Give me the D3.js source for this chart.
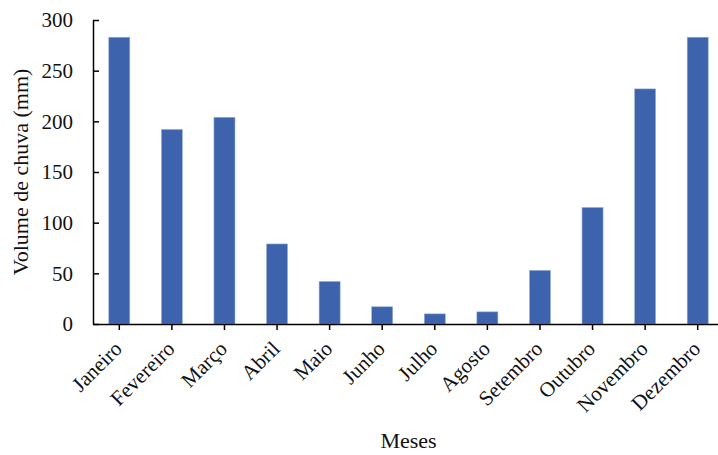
<!DOCTYPE html>
<html>
<head>
<meta charset="utf-8">
<script src="https://cdn.jsdelivr.net/npm/d3@7"></script>
<style>
  html, body { margin: 0; padding: 0; background: #fff; }
  svg { display: block; font-family: "Liberation Serif", "Times New Roman", serif; }
</style>
</head>
<body>
<svg id="chart" width="718" height="455"></svg>
<script>
// Monthly rainfall (mm)
const months = ["Janeiro", "Fevereiro", "Março", "Abril", "Maio", "Junho",
                "Julho", "Agosto", "Setembro", "Outubro", "Novembro", "Dezembro"];
const rainfall = [283, 192, 204, 79, 42, 17, 10, 12, 53, 115, 232, 283];
const yTicks = [0, 50, 100, 150, 200, 250, 300];

const svg = d3.select("#chart");
const plotLeft = 93, plotRight = 724, plotTop = 20, plotBottom = 324;
const serif = "Liberation Serif, Times New Roman, serif";

const x = d3.scaleBand().domain(months).range([plotLeft, plotRight]).paddingInner(0.6).paddingOuter(0.3);
const y = d3.scaleLinear().domain([0, 300]).range([plotBottom, plotTop]);

// Bars
svg.append("g").selectAll("rect")
  .data(months.map((m, i) => ({ m, v: rainfall[i] })))
  .join("rect")
  .attr("x", d => x(d.m))
  .attr("y", d => y(d.v))
  .attr("width", x.bandwidth())
  .attr("height", d => y(0) - y(d.v))
  .attr("fill", "#3c63ab")
  .attr("stroke", "#9db2db")
  .attr("stroke-width", 0.6);

// Y axis (ticks point into the plot)
const yAxis = svg.append("g")
  .attr("transform", `translate(${plotLeft},0)`)
  .call(d3.axisLeft(y).tickValues(yTicks).tickSize(-6).tickPadding(20).tickSizeOuter(0));
yAxis.select(".domain").attr("stroke", "#000").attr("stroke-width", 1.5);
yAxis.selectAll(".tick line").attr("stroke", "#000").attr("stroke-width", 1.5);
yAxis.selectAll(".tick text").attr("font-size", 21).attr("fill", "#111")
  .attr("font-family", serif);

// X axis with rotated month labels
const xAxis = svg.append("g")
  .attr("transform", `translate(0,${plotBottom})`)
  .call(d3.axisBottom(x).tickSize(6).tickSizeOuter(0));
xAxis.select(".domain").attr("stroke", "#000").attr("stroke-width", 1.5);
xAxis.selectAll(".tick line").attr("stroke", "#000").attr("stroke-width", 1.5);
xAxis.selectAll(".tick text")
  .attr("font-size", 21).attr("fill", "#111")
  .attr("font-family", serif)
  .attr("text-anchor", "end")
  .attr("x", 0).attr("y", 0).attr("dy", 0)
  .attr("transform", "translate(4,26) rotate(-45)");

// Axis titles
svg.append("text")
  .attr("transform", `translate(28,${(plotTop + plotBottom) / 2}) rotate(-90)`)
  .attr("text-anchor", "middle")
  .attr("font-size", 22).attr("fill", "#111")
  .attr("font-family", serif)
  .text("Volume de chuva (mm)");

svg.append("text")
  .attr("x", (plotLeft + plotRight) / 2).attr("y", 448)
  .attr("text-anchor", "middle")
  .attr("font-size", 22).attr("fill", "#111")
  .attr("font-family", serif)
  .text("Meses");
</script>
</body>
</html>
